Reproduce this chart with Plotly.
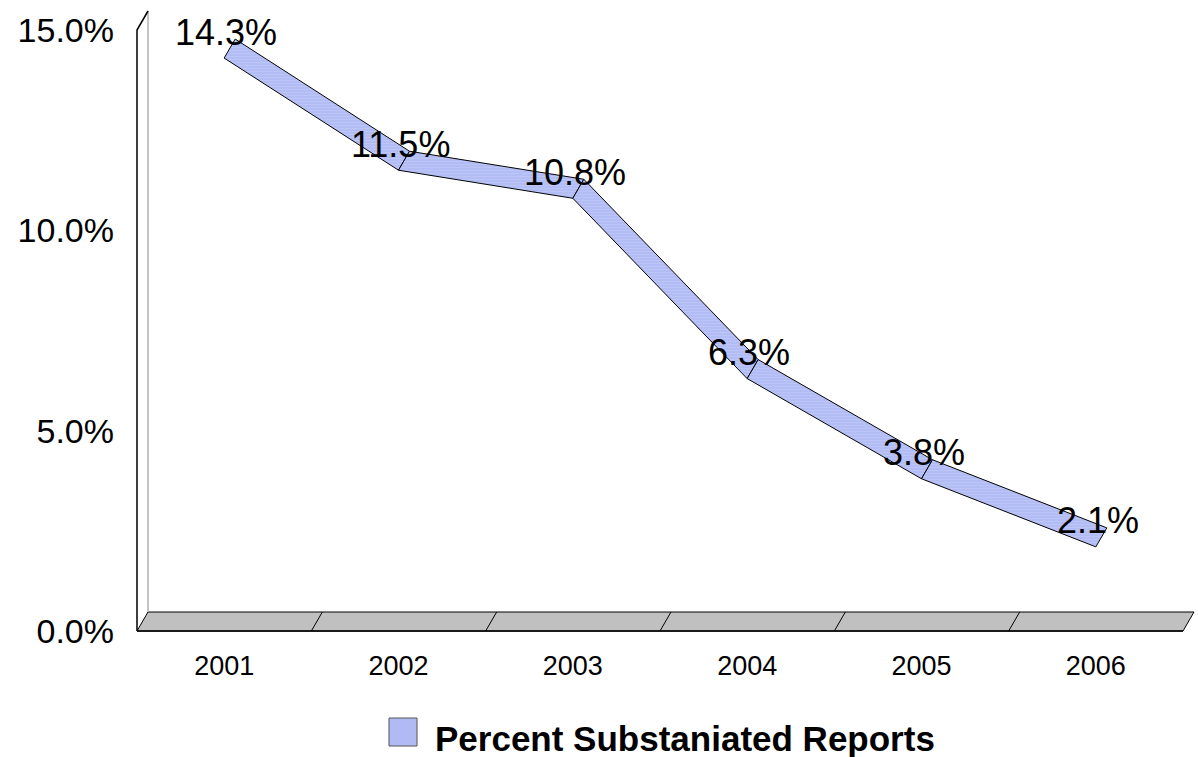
import plotly.graph_objects as go

# Data
years = ["2001", "2002", "2003", "2004", "2005", "2006"]
pct_substantiated = [14.3, 11.5, 10.8, 6.3, 3.8, 2.1]
y_ticks = [0, 5, 10, 15]
series_name = "Percent Substaniated Reports"

# Page / plot geometry (pixels)
W, H = 1198, 757
PX_X0, PX_X1 = 137, 1183        # floor front edge, left and right
PX_Y0, PX_Y15 = 631, 30         # y = 0 and y = 15 on the front plane
PLOT_L, PLOT_R, PLOT_T, PLOT_B = 127, 1197, 4, 641

n = len(years)
px_per_cat = (PX_X1 - PX_X0) / n
px_per_pct = (PX_Y0 - PX_Y15) / 15.0

x_range = [-0.5 - (PX_X0 - PLOT_L) / px_per_cat, -0.5 + (PLOT_R - PX_X0) / px_per_cat]
y_range = [-(PLOT_B - PX_Y0) / px_per_pct, (PX_Y0 - PLOT_T) / px_per_pct]

# 3-D depth offset (back plane relative to front plane), in data units
DX = 11 / px_per_cat
DY = 19 / px_per_pct

RIBBON_BG = "#B1BAF4"
RIBBON_FG = "#C9CFF8"
FLOOR = "#C0C0C0"
FONT = "Arial, 'Liberation Sans', sans-serif"

fig = go.Figure()

# Floor slab
fx = [-0.5, n - 0.5, n - 0.5 + DX, -0.5 + DX, -0.5]
fy = [0, 0, DY, DY, 0]
fig.add_trace(go.Scatter(x=fx, y=fy, mode="lines", fill="toself",
                         fillcolor=FLOOR, line=dict(color="#000000", width=1),
                         hoverinfo="skip", showlegend=False))
# heavier front edge of the floor
fig.add_trace(go.Scatter(x=[-0.5, n - 0.5], y=[0, 0], mode="lines",
                         line=dict(color="#1a1a1a", width=2),
                         hoverinfo="skip", showlegend=False))
# category dividers on the floor
for k in range(1, n):
    fig.add_trace(go.Scatter(x=[k - 0.5, k - 0.5 + DX], y=[0, DY], mode="lines",
                             line=dict(color="#000000", width=1),
                             hoverinfo="skip", showlegend=False))

# Back wall edge (grey) and front value axis (black, with slanted top)
fig.add_trace(go.Scatter(x=[-0.5 + DX, -0.5 + DX], y=[DY, 15 + DY], mode="lines",
                         line=dict(color="#B0B0B0", width=1.5),
                         hoverinfo="skip", showlegend=False))
fig.add_trace(go.Scatter(x=[-0.5, -0.5, -0.5 + DX], y=[0, 15, 15 + DY], mode="lines",
                         line=dict(color="#000000", width=1.5),
                         hoverinfo="skip", showlegend=False))

# Ribbon: one parallelogram per segment, front edge at the value, back edge offset
xs = list(range(n))
for i in range(n - 1):
    qx = [xs[i], xs[i + 1], xs[i + 1] + DX, xs[i] + DX, xs[i]]
    qy = [pct_substantiated[i], pct_substantiated[i + 1],
          pct_substantiated[i + 1] + DY, pct_substantiated[i] + DY,
          pct_substantiated[i]]
    fig.add_trace(go.Scatter(
        x=qx, y=qy, mode="lines", fill="toself",
        fillcolor=RIBBON_BG,
        fillpattern=dict(shape="-", bgcolor=RIBBON_BG, fgcolor=RIBBON_FG,
                         size=3, solidity=0.4),
        line=dict(color="#000000", width=1),
        name=series_name, showlegend=False, hoverinfo="skip"))

# Data labels
for i, v in enumerate(pct_substantiated):
    fig.add_annotation(x=xs[i], y=v, text=f"{v:.1f}%", showarrow=False,
                       xanchor="center", yanchor="middle", xshift=2, yshift=26,
                       font=dict(family=FONT, size=36, color="#000000"))


def paper_x(px):
    return (px - PLOT_L) / (PLOT_R - PLOT_L)


def paper_y(py):
    return (PLOT_B - py) / (PLOT_B - PLOT_T)


# Legend swatch and label
fig.add_shape(type="rect", xref="paper", yref="paper",
              x0=paper_x(389), x1=paper_x(417), y0=paper_y(746), y1=paper_y(718),
              fillcolor=RIBBON_BG, line=dict(color="#555555", width=1))
fig.add_annotation(xref="paper", yref="paper", x=paper_x(433), y=paper_y(739),
                   text=f"<b>{series_name}</b>", showarrow=False,
                   xanchor="left", yanchor="middle",
                   font=dict(family=FONT, size=35, color="#000000"))

fig.update_layout(
    width=W, height=H,
    margin=dict(l=PLOT_L, r=W - PLOT_R, t=PLOT_T, b=H - PLOT_B, pad=0),
    paper_bgcolor="#FFFFFF", plot_bgcolor="#FFFFFF",
    showlegend=False,
    xaxis=dict(range=x_range, tickmode="array", tickvals=xs, ticktext=years,
               showgrid=False, zeroline=False, showline=False, ticks="",
               tickfont=dict(family=FONT, size=27, color="#000000"),
               ticklabelstandoff=6, fixedrange=True),
    yaxis=dict(range=y_range, tickmode="array", tickvals=y_ticks,
               ticktext=[f"{t:.1f}%" for t in y_ticks],
               showgrid=False, zeroline=False, showline=False, ticks="",
               tickfont=dict(family=FONT, size=34, color="#000000"),
               ticklabelstandoff=12, fixedrange=True),
)

fig.write_html("out.html")
